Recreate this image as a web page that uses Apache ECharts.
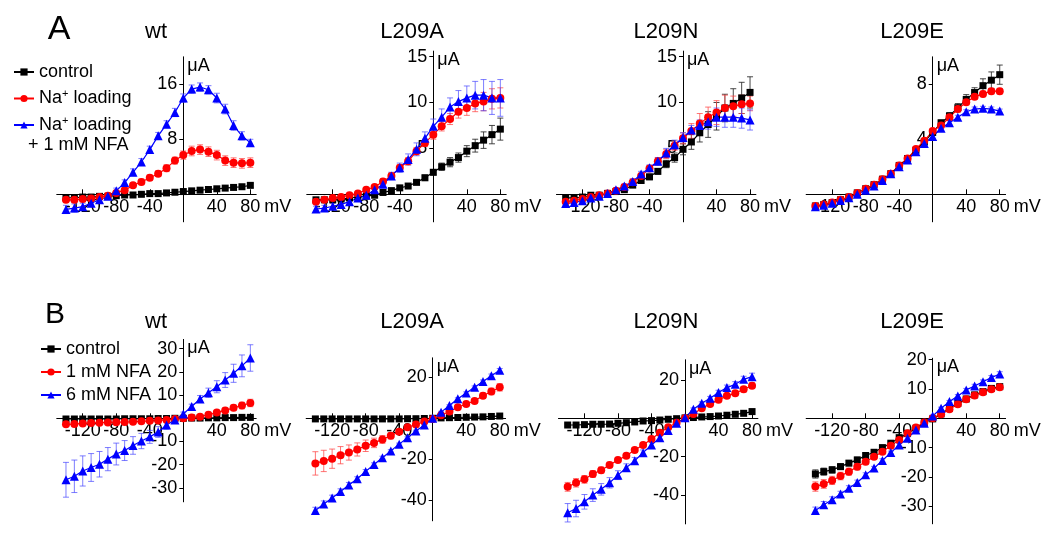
<!DOCTYPE html>
<html>
<head>
<meta charset="utf-8">
<script src="https://cdn.jsdelivr.net/npm/echarts@6/dist/echarts.min.js"></script>
<style>html,body{margin:0;padding:0;background:#fff}#c{width:1050px;height:560px}</style>
</head>
<body>
<div id="c"></div>
<script>
// ---------------- DATA ----------------
const voltages = [-140,-130,-120,-110,-100,-90,-80,-70,-60,-50,-40,-30,-20,-10,0,10,20,30,40,50,60,70,80];
const xTickLabels = [-120,-80,-40,40,80];
const namesA = ['control','Na+ loading','Na+ loading + 1 mM NFA'];
const namesB = ['control','1 mM NFA','6 mM NFA'];
const titles = ['wt','L209A','L209N','L209E'];
const yTicksAWt = [8,16];
const yTicksAAla = [5,10,15];
const yTicksAAsn = [5,10,15];
const yTicksAGlu = [4,8];
const yTicksBWt = [-30,-20,-10,10,20,30];
const yTicksBAla = [-40,-20,20];
const yTicksBAsn = [-40,-20,20];
const yTicksBGlu = [-30,-20,-10,10,20];

// Panel A, wt
const aWtCtrl = [-0.5,-0.5,-0.4,-0.4,-0.3,-0.3,-0.2,-0.1,-0.1,0,0.1,0.1,0.2,0.3,0.4,0.5,0.6,0.7,0.8,0.9,1.0,1.1,1.3];
const aWtNa   = [-0.8,-0.8,-0.7,-0.6,-0.4,-0.2,0.2,0.6,1.3,1.8,2.4,3.0,3.8,4.9,5.7,6.3,6.5,6.2,5.7,4.9,4.6,4.5,4.6];
const aWtNfa  = [-2.2,-2.0,-1.8,-1.3,-0.8,-0.3,0.5,1.7,3.2,4.7,6.5,8.5,10.2,11.9,14.0,15.3,15.6,15.2,14.0,12.4,10.0,8.5,7.5];
const aWtCtrlErr = [0.2,0.2,0.2,0.2,0.2,0.2,0.2,0.2,0.2,0.2,0.2,0.2,0.2,0.2,0.2,0.2,0.2,0.2,0.2,0.2,0.2,0.2,0.3];
const aWtNaErr   = [0.4,0.4,0.4,0.4,0.4,0.4,0.3,0.3,0.3,0.4,0.4,0.4,0.5,0.5,0.6,0.7,0.7,0.7,0.7,0.7,0.7,0.7,0.7];
const aWtNfaErr  = [0.6,0.6,0.5,0.5,0.4,0.4,0.4,0.4,0.5,0.5,0.5,0.5,0.5,0.6,0.6,0.6,0.6,0.6,0.7,0.7,0.7,0.6,0.5];
// Panel A, L209A
const aAlaCtrl = [-0.6,-0.6,-0.6,-0.5,-0.4,-0.3,-0.2,-0.1,0.2,0.4,0.7,0.9,1.3,1.8,2.4,3.0,3.5,4.0,4.7,5.3,5.9,6.5,7.1];
const aAlaNa   = [-0.8,-0.6,-0.4,-0.3,-0.1,0.1,0.5,0.8,1.4,2.0,2.9,3.6,4.7,5.6,6.5,7.4,8.2,9.0,9.4,9.9,10.1,10.4,10.5];
const aAlaNfa  = [-1.6,-1.5,-1.3,-1.1,-0.8,-0.4,-0.1,0.5,1.1,2.0,2.9,3.8,4.9,6.1,7.4,8.4,9.5,10.1,10.5,10.8,10.8,10.5,10.5];
const aAlaCtrlErr = [0.2,0.2,0.2,0.2,0.2,0.2,0.2,0.2,0.2,0.2,0.2,0.2,0.2,0.3,0.3,0.4,0.5,0.5,0.6,0.7,0.9,1.0,1.2];
const aAlaNaErr   = [0.2,0.2,0.2,0.2,0.2,0.2,0.2,0.2,0.3,0.3,0.3,0.4,0.4,0.4,0.5,0.5,0.6,0.7,0.8,0.9,1.0,1.1,1.1];
const aAlaNfaErr  = [0.3,0.3,0.3,0.3,0.3,0.3,0.3,0.3,0.3,0.4,0.5,0.6,0.7,0.7,0.8,0.9,1.0,1.2,1.3,1.5,1.7,1.8,2.0];
// Panel A, L209N
const aAsnCtrl = [-0.4,-0.4,-0.3,-0.1,-0.1,0.1,0.3,0.5,1.0,1.5,1.9,2.5,3.3,4.0,4.9,5.7,6.7,7.6,8.5,9.4,9.9,10.5,11.1];
const aAsnNa   = [-0.8,-0.7,-0.5,-0.3,-0.1,0.1,0.4,0.8,1.3,2.0,2.8,3.6,4.4,5.3,6.1,6.9,7.7,8.4,8.9,9.4,9.6,9.8,9.9];
const aAsnNfa  = [-1.0,-0.9,-0.7,-0.4,-0.2,0.1,0.5,0.9,1.4,2.2,2.9,3.6,4.5,5.4,6.2,7.0,7.5,7.9,8.4,8.4,8.4,8.3,8.1];
const aAsnCtrlErr = [0.2,0.2,0.2,0.2,0.2,0.2,0.2,0.2,0.2,0.2,0.3,0.3,0.4,0.5,0.6,0.8,1.0,1.4,1.5,1.5,1.6,1.7,1.7];
const aAsnNaErr   = [0.2,0.2,0.2,0.2,0.2,0.2,0.2,0.2,0.2,0.3,0.3,0.4,0.5,0.5,0.6,0.8,1.1,1.1,1.3,1.4,1.1,1.0,0.8];
const aAsnNfaErr  = [0.2,0.2,0.2,0.2,0.2,0.2,0.2,0.2,0.3,0.3,0.3,0.4,0.5,0.5,0.5,0.5,0.6,0.8,1.0,1.1,1.1,1.1,1.1];
// Panel A, L209E
const aGluCtrl = [-0.85,-0.75,-0.6,-0.4,-0.2,0.1,0.4,0.7,1.1,1.5,2.1,2.6,3.2,3.8,4.5,5.2,5.7,6.3,6.9,7.4,7.9,8.3,8.7];
const aGluNa   = [-0.85,-0.75,-0.6,-0.4,-0.2,0.1,0.4,0.7,1.1,1.5,2.1,2.6,3.3,3.9,4.6,5.0,5.6,6.2,6.7,7.1,7.3,7.5,7.5];
const aGluNfa  = [-0.9,-0.8,-0.65,-0.45,-0.25,0,0.3,0.6,1.0,1.5,2.0,2.5,3.1,3.7,4.2,4.8,5.2,5.6,6.0,6.2,6.25,6.2,6.05];
const aGluCtrlErr = [0.1,0.1,0.1,0.1,0.1,0.1,0.1,0.1,0.1,0.1,0.1,0.1,0.1,0.15,0.2,0.2,0.25,0.3,0.35,0.35,0.5,0.6,0.7];
const aGluNaErr   = [0.1,0.1,0.1,0.1,0.1,0.1,0.1,0.1,0.1,0.1,0.1,0.1,0.1,0.15,0.15,0.15,0.2,0.2,0.2,0.2,0.2,0.2,0.2];
const aGluNfaErr  = [0.1,0.1,0.1,0.1,0.1,0.1,0.1,0.1,0.1,0.1,0.1,0.1,0.1,0.1,0.15,0.15,0.15,0.15,0.15,0.15,0.15,0.15,0.15];
// Panel B, wt
const bWtCtrl = [-0.3,-0.3,-0.3,-0.3,-0.3,-0.3,-0.3,-0.2,-0.2,-0.2,-0.2,-0.1,-0.1,0,0,0.1,0.1,0.2,0.2,0.3,0.3,0.4,0.4];
const bWtNfa1 = [-2.6,-2.5,-2.2,-2.0,-1.9,-1.8,-1.7,-1.6,-1.5,-1.3,-1.1,-0.9,-0.7,-0.3,0,0.3,0.7,1.5,2.5,3.4,4.5,5.5,6.6];
const bWtNfa6 = [-26.5,-25.0,-22.7,-21.2,-19.8,-17.6,-15.4,-13.9,-11.7,-9.8,-8.0,-5.9,-2.9,-0.7,1.9,5.1,8.3,11.0,13.6,16.5,19.4,22.6,26.0];
const bWtCtrlErr = [0.3,0.3,0.3,0.3,0.3,0.3,0.3,0.3,0.3,0.3,0.3,0.3,0.3,0.3,0.3,0.3,0.3,0.3,0.3,0.3,0.3,0.3,0.3];
const bWtNfa1Err = [0.8,0.8,0.7,0.7,0.6,0.6,0.6,0.5,0.5,0.5,0.5,0.4,0.4,0.3,0.3,0.4,0.5,0.6,0.8,1.0,1.2,1.4,1.6];
const bWtNfa6Err = [7.5,7.0,6.5,6.0,5.5,5.0,4.7,4.3,3.8,3.3,2.8,2.3,1.8,1.2,0.8,1.0,1.5,2.0,2.6,3.2,3.9,4.7,5.7];
// Panel B, L209A
const bAlaCtrl = [-0.3,-0.3,-0.3,-0.3,-0.3,-0.3,-0.3,-0.3,-0.3,-0.3,-0.3,-0.2,-0.2,-0.1,0,0.2,0.3,0.4,0.5,0.6,0.7,0.9,1.1];
const bAlaNfa1 = [-22,-20.8,-19.7,-18,-16.7,-15.2,-13.4,-12,-10.3,-8.5,-6.6,-4.4,-3.0,-1.6,-0.3,1.5,3.3,5.4,7.0,8.5,11.0,13.1,15.1];
const bAlaNfa6 = [-45,-41.8,-38.9,-35.7,-32.5,-29.5,-25.9,-22.5,-19.2,-15.9,-12.6,-9.5,-6.2,-3.3,0,3.0,6.2,9.5,12.3,15.2,18,20.8,23.4];
const bAlaCtrlErr = [0.2,0.2,0.2,0.2,0.2,0.2,0.2,0.2,0.2,0.2,0.2,0.2,0.2,0.2,0.2,0.2,0.2,0.2,0.2,0.2,0.2,0.3,0.3];
const bAlaNfa1Err = [5.7,5.2,4.7,4.2,3.7,3.2,2.8,2.3,1.9,1.5,1.2,0.9,0.7,0.5,0.4,0.5,0.6,0.7,0.9,1.1,1.3,1.6,1.8];
const bAlaNfa6Err = [1.6,1.5,1.4,1.3,1.2,1.0,0.9,0.8,0.7,0.6,0.5,0.5,0.4,0.4,0.3,0.4,0.4,0.5,0.6,0.6,0.7,0.8,0.9];
// Panel B, L209N
const bAsnCtrl = [-3.5,-3.5,-3.3,-3.1,-3.1,-3.0,-2.6,-2.3,-1.9,-1.4,-1.2,-0.9,-0.5,-0.2,0.2,0.4,0.7,0.9,1.2,1.6,2.1,2.6,3.5];
const bAsnNfa1 = [-35.7,-33.6,-31.8,-29,-27,-24.3,-21.7,-19.5,-16.5,-13.9,-10.8,-7.5,-4.7,-2.3,0,2.3,5.2,7.5,9.6,11.7,13,15.1,17];
const bAsnNfa6 = [-49.2,-47,-43.5,-40,-37,-33.6,-29.6,-25.7,-22.1,-17.9,-13.9,-10.1,-6.4,-2.6,0.3,4.7,7.8,10.4,13.4,16,17.7,20.3,21.7];
const bAsnCtrlErr = [0.6,0.6,0.5,0.5,0.5,0.5,0.4,0.4,0.4,0.3,0.3,0.3,0.2,0.2,0.2,0.2,0.2,0.2,0.3,0.3,0.3,0.4,0.5];
const bAsnNfa1Err = [2.3,2.2,2.0,1.8,1.6,1.4,1.3,1.2,1.0,0.9,0.8,0.7,0.6,0.5,0.5,0.6,0.7,0.8,1.0,1.1,1.2,1.4,1.5];
const bAsnNfa6Err = [4.8,4.3,3.8,3.3,3.0,2.7,2.3,2.0,1.7,1.4,1.2,1.0,0.8,0.6,0.5,0.7,0.8,1.0,1.2,1.3,1.4,1.6,1.8];
// Panel B, L209E
const bGluCtrl = [-19,-18.2,-17.6,-16.5,-15.3,-14.2,-12.7,-11.6,-10,-8.5,-6.6,-5.1,-3.4,-1.5,-0.2,1.5,3.4,5.1,6.6,8,9.1,10.2,10.8];
const bGluNfa1 = [-23.3,-22.4,-21.2,-19.7,-18.2,-16.5,-14.8,-13.1,-11.4,-9.4,-7.4,-5.1,-3.1,-1.4,0,1.4,3.1,4.8,6.5,7.8,8.9,9.9,10.6];
const bGluNfa6 = [-31.5,-29.5,-27.8,-25.8,-23.9,-21.9,-19.3,-17,-14.4,-11.7,-9.1,-6.8,-4,-1.7,0.8,3.4,5.7,7.6,9.7,11,12.5,13.9,15.1];
const bGluCtrlErr = [1.4,1.2,1.1,1.0,0.9,0.9,0.8,0.7,0.6,0.6,0.5,0.4,0.4,0.3,0.3,0.3,0.3,0.4,0.4,0.5,0.5,0.6,0.7];
const bGluNfa1Err = [1.6,1.5,1.4,1.3,1.2,1.1,1.0,0.9,0.8,0.7,0.6,0.5,0.4,0.3,0.3,0.3,0.3,0.4,0.4,0.5,0.5,0.6,0.7];
const bGluNfa6Err = [1.2,1.1,1.0,0.9,0.9,0.8,0.7,0.6,0.6,0.5,0.5,0.4,0.4,0.3,0.3,0.4,0.4,0.5,0.5,0.6,0.6,0.7,0.8];

// ---------------- LAYOUT / STYLE ----------------
const FONT = 'Liberation Sans, Arial, sans-serif';
const KX = 0.838;
const panels = [
  {t:0, names:namesA, vals:[aWtCtrl,aWtNa,aWtNfa],   errs:[aWtCtrlErr,aWtNaErr,aWtNfaErr],   ticks:yTicksAWt,  x0:183.3, y0:194.3, ky:6.875, ymin:-4,  ymax:20,   tpos:[156,32]},
  {t:1, names:namesA, vals:[aAlaCtrl,aAlaNa,aAlaNfa],errs:[aAlaCtrlErr,aAlaNaErr,aAlaNfaErr],ticks:yTicksAAla, x0:433.3, y0:194.3, ky:9.18,  ymin:-3,  ymax:15.6, tpos:[412,32]},
  {t:2, names:namesA, vals:[aAsnCtrl,aAsnNa,aAsnNfa],errs:[aAsnCtrlErr,aAsnNaErr,aAsnNfaErr],ticks:yTicksAAsn, x0:683,   y0:194.3, ky:9.18,  ymin:-3,  ymax:15.6, tpos:[666,32]},
  {t:3, names:namesA, vals:[aGluCtrl,aGluNa,aGluNfa],errs:[aGluCtrlErr,aGluNaErr,aGluNfaErr],ticks:yTicksAGlu, x0:932.7, y0:194.3, ky:13.75, ymin:-2,  ymax:10,   tpos:[912,32]},
  {t:0, names:namesB, vals:[bWtCtrl,bWtNfa1,bWtNfa6],errs:[bWtCtrlErr,bWtNfa1Err,bWtNfa6Err],ticks:yTicksBWt,  x0:183.3, y0:418.3, ky:2.32,  ymin:-36, ymax:34,   tpos:[156,322]},
  {t:1, names:namesB, vals:[bAlaCtrl,bAlaNfa1,bAlaNfa6],errs:[bAlaCtrlErr,bAlaNfa1Err,bAlaNfa6Err],ticks:yTicksBAla, x0:432.7, y0:418.3, ky:2.05, ymin:-50, ymax:29.5, tpos:[412,322]},
  {t:2, names:namesB, vals:[bAsnCtrl,bAsnNfa1,bAsnNfa6],errs:[bAsnCtrlErr,bAsnNfa1Err,bAsnNfa6Err],ticks:yTicksBAsn, x0:685, y0:418.3, ky:1.92, ymin:-55, ymax:30.5, tpos:[666,322]},
  {t:3, names:namesB, vals:[bGluCtrl,bGluNfa1,bGluNfa6],errs:[bGluCtrlErr,bGluNfa1Err,bGluNfa6Err],ticks:yTicksBGlu, x0:932.7, y0:418.3, ky:2.93, ymin:-36, ymax:20.5, tpos:[912,322]}
];
const XMIN = -151, XMAX = 87;
const seriesStyle = [
  {color:'#000000', err:'rgba(40,40,40,0.85)',  symbol:'rect',     size:7},
  {color:'#ff0000', err:'rgba(255,70,70,0.75)', symbol:'circle',   size:8},
  {color:'#0000ff', err:'rgba(70,70,255,0.7)',  symbol:'triangle', size:9}
];

function errRender(color) {
  return function (params, api) {
    const x = api.value(0), y = api.value(1), e = api.value(2);
    const hi = api.coord([x, y + e]);
    const lo = api.coord([x, y - e]);
    const w = 3;
    const style = {stroke: color, lineWidth: 1, fill: null};
    return {type: 'group', children: [
      {type: 'line', shape: {x1: hi[0], y1: hi[1], x2: lo[0], y2: lo[1]}, style: style},
      {type: 'line', shape: {x1: hi[0] - w, y1: hi[1], x2: hi[0] + w, y2: hi[1]}, style: style},
      {type: 'line', shape: {x1: lo[0] - w, y1: lo[1], x2: lo[0] + w, y2: lo[1]}, style: style}
    ]};
  };
}

const grids = [], xAxes = [], yAxes = [], series = [], graphics = [];
panels.forEach(function (p, i) {
  grids.push({
    left: p.x0 + XMIN * KX, width: (XMAX - XMIN) * KX,
    top: p.y0 - p.ymax * p.ky, height: (p.ymax - p.ymin) * p.ky,
    containLabel: false
  });
  // axes are shifted into the grid so that they cross at (0 mV, 0 µA)
  xAxes.push({
    type: 'value', gridIndex: i, min: XMIN, max: XMAX, position: 'bottom',
    offset: p.ymin * p.ky,
    name: 'mV', nameLocation: 'end', nameGap: 6,
    nameTextStyle: {fontFamily: FONT, fontSize: 18, color: '#000', align: 'left', verticalAlign: 'top', padding: [4, 0, 0, 0]},
    axisLine: {onZero: false, lineStyle: {color: '#000', width: 1}},
    axisTick: {show: true, inside: true, length: 5, customValues: xTickLabels, lineStyle: {color: '#000'}},
    axisLabel: {show: true, customValues: xTickLabels, margin: 4, fontFamily: FONT, fontSize: 18, color: '#000'},
    splitLine: {show: false}
  });
  yAxes.push({
    type: 'value', gridIndex: i, min: p.ymin, max: p.ymax, position: 'left',
    offset: XMIN * KX,
    name: 'μA', nameLocation: 'end', nameGap: 0,
    nameTextStyle: {fontFamily: FONT, fontSize: 18, color: '#000', align: 'left', verticalAlign: 'top', padding: [0, 0, 0, 4]},
    axisLine: {onZero: false, lineStyle: {color: '#000', width: 1}},
    axisTick: {show: true, inside: false, length: 4, customValues: p.ticks, lineStyle: {color: '#000'}},
    axisLabel: {show: true, customValues: p.ticks, margin: 6, fontFamily: FONT, fontSize: 18, color: '#000'},
    splitLine: {show: false}
  });
  p.vals.forEach(function (vals, k) {
    const st = seriesStyle[k];
    series.push({
      type: 'custom', name: p.names[k] + ' error', xAxisIndex: i, yAxisIndex: i,
      renderItem: errRender(st.err), silent: true, clip: false, z: 2,
      encode: {x: 0, y: 1},
      data: voltages.map(function (v, j) { return [v, vals[j], p.errs[k][j]]; })
    });
  });
  p.vals.forEach(function (vals, k) {
    const st = seriesStyle[k];
    series.push({
      type: 'line', name: p.names[k], xAxisIndex: i, yAxisIndex: i,
      symbol: st.symbol, symbolSize: st.size, showAllSymbol: true,
      itemStyle: {color: st.color}, lineStyle: {color: st.color, width: 1.2}, z: 3,
      data: voltages.map(function (v, j) { return [v, vals[j]]; })
    });
  });
  graphics.push({type: 'text', x: p.tpos[0], y: p.tpos[1],
    style: {text: titles[p.t], font: '22px ' + FONT, fill: '#000', align: 'center', verticalAlign: 'middle', textAlign: 'center', textVerticalAlign: 'middle'}});
});
graphics.push({type: 'text', x: 59, y: 30, style: {text: 'A', font: '34px ' + FONT, fill: '#000', align: 'center', verticalAlign: 'middle', textAlign: 'center', textVerticalAlign: 'middle'}});
graphics.push({type: 'text', x: 55, y: 315, style: {text: 'B', font: '30px ' + FONT, fill: '#000', align: 'center', verticalAlign: 'middle', textAlign: 'center', textVerticalAlign: 'middle'}});
graphics.push({type: 'text', x: 28, y: 145, style: {text: '+ 1 mM NFA', font: '18px ' + FONT, fill: '#000', align: 'left', verticalAlign: 'middle', textAlign: 'left', textVerticalAlign: 'middle'}});

function legendFmt(name) {
  if (name === 'Na+ loading' || name === 'Na+ loading + 1 mM NFA') return 'Na{sup|+} loading';
  return name;
}
const legendText = {fontFamily: FONT, fontSize: 18, color: '#000', lineHeight: 20,
  rich: {sup: {fontFamily: FONT, fontSize: 11, verticalAlign: 'top', lineHeight: 20, padding: [0, 0, 6, 0]}}};

const option = {
  animation: false,
  backgroundColor: '#fff',
  grid: grids, xAxis: xAxes, yAxis: yAxes, series: series, graphic: graphics,
  legend: [
    {data: namesA, orient: 'vertical', left: 8, top: 57, itemWidth: 20, itemHeight: 9, itemGap: 6.5,
     formatter: legendFmt, textStyle: legendText, selectedMode: false},
    {data: namesB, orient: 'vertical', left: 35, top: 334, itemWidth: 20, itemHeight: 9, itemGap: 3,
     formatter: legendFmt, textStyle: legendText, selectedMode: false}
  ]
};
const chart = echarts.init(document.getElementById('c'), null, {renderer: 'canvas'});
chart.setOption(option);
</script>
</body>
</html>
